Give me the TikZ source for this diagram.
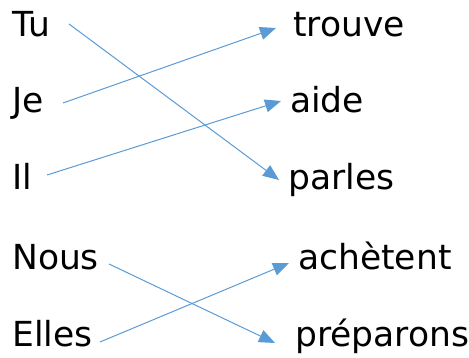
\documentclass[tikz,border=0pt]{standalone}
\usepackage{fontspec}
\setmainfont{DejaVu Sans}
\usetikzlibrary{arrows.meta}
\definecolor{arrblue}{HTML}{5B9BD5}
\begin{document}
\begin{tikzpicture}[x=1pt,y=1pt,
  word/.style={anchor=base west,inner sep=0pt,font=\fontsize{34.5}{40}\selectfont,text=black},
  arr/.style={draw=arrblue,line width=1pt,-{Triangle[length=16pt,width=13pt]}}]
\useasboundingbox (0,0) rectangle (469,358);
% left words
\node[word] (tu) at (12,321) {Tu};
\node[word] (je) at (12,245) {Je};
\node[word] (il) at (12,168) {Il};
\node[word] (nous) at (12,88) {Nous};
\node[word] (elles) at (12,11) {Elles};
% right words
\node[word] (trouve) at (293,321) {trouve};
\node[word] (aide) at (290,245) {aide};
\node[word] (parles) at (288,168) {parles};
\node[word] (achetent) at (298,88) {achètent};
\node[word] (preparons) at (295,11) {préparons};
% connector ends
\coordinate (tuS) at (69,334);
\coordinate (jeS) at (63,255);
\coordinate (ilS) at (47,183);
\coordinate (nousS) at (109,94);
\coordinate (ellesS) at (100,16);
\coordinate (trouveE) at (276,330);
\coordinate (aideE) at (281,257);
\coordinate (parlesE) at (279,178);
\coordinate (achetentE) at (289,95);
\coordinate (preparonsE) at (275,15);
\draw[arr] (tuS) -- (parlesE);
\draw[arr] (jeS) -- (trouveE);
\draw[arr] (ilS) -- (aideE);
\draw[arr] (nousS) -- (preparonsE);
\draw[arr] (ellesS) -- (achetentE);
\end{tikzpicture}
\end{document}
